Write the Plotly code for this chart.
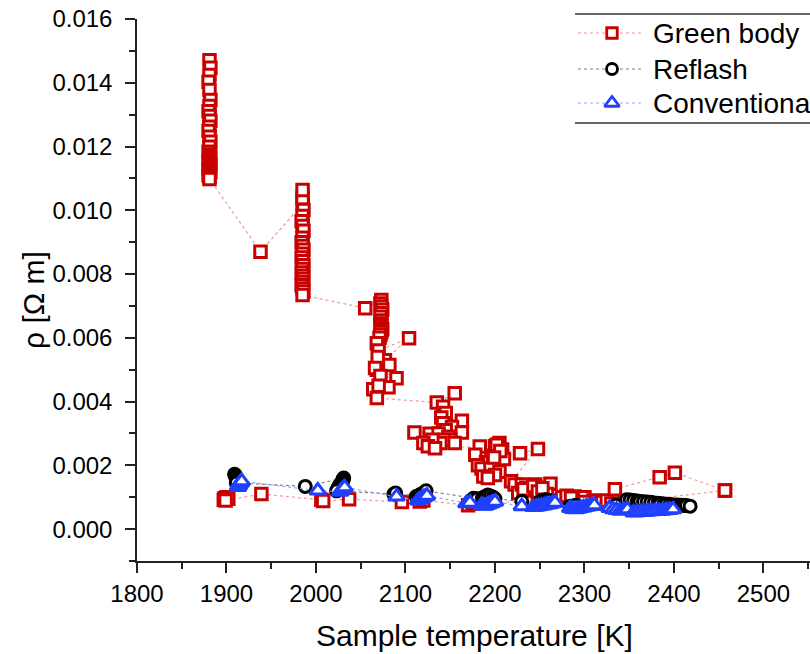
import plotly.graph_objects as go

# ---- Green body: first (high-resistivity) run ----
gb1_T = [1881, 1882, 1881, 1880, 1881, 1882, 1881, 1880, 1881, 1882,
         1881, 1880, 1881, 1882, 1881, 1880, 1881, 1882, 1881, 1880,
         1881, 1882, 1881, 1880, 1881, 1882, 1881, 1880, 1881, 1881,
         1938,
         1985, 1985, 1985, 1986, 1985, 1984, 1985, 1986, 1985, 1984,
         1985, 1986, 1985, 1984, 1985, 1986, 1985, 1984, 1985, 1986,
         1985, 1984, 1985, 1986, 1985,
         2055,
         2073, 2072, 2073, 2074, 2073, 2072, 2073, 2072, 2073, 2074,
         2073, 2072, 2071,
         2068, 2070, 2104, 2077, 2069, 2082, 2068, 2066, 2090, 2072,
         2081, 2064, 2070, 2068,
         2135, 2155, 2142, 2145, 2140, 2163, 2142, 2152, 2145, 2110,
         2127, 2163, 2137, 2148, 2150, 2143, 2139, 2130, 2120, 2155,
         2125, 2133,
         2183, 2178, 2205, 2200, 2208, 2203, 2196, 2210, 2190, 2181,
         2198, 2185, 2195, 2205, 2200, 2187, 2192, 2202, 2206, 2199,
         2228, 2248,
         2218, 2222, 2226, 2230, 2235, 2239, 2240, 2245, 2250, 2255,
         2262, 2258, 2232, 2243, 2248, 2253,
         2275, 2280, 2289, 2295, 2300, 2285,
         2310, 2315, 2320, 2325, 2334, 2384, 2401, 2457]
gb1_rho = [0.01471, 0.01447, 0.01424, 0.01403, 0.01377, 0.01346, 0.01327, 0.01311, 0.01296, 0.01281,
           0.01262, 0.01249, 0.01231, 0.01215, 0.01199, 0.01184, 0.01175, 0.01168, 0.01161, 0.01154,
           0.01148, 0.01142, 0.01136, 0.01130, 0.01125, 0.01120, 0.01115, 0.01110, 0.01105, 0.01098,
           0.00870,
           0.01020, 0.01038, 0.01064, 0.01001, 0.00982, 0.00966, 0.00951, 0.00936, 0.00914, 0.00900,
           0.00888, 0.00876, 0.00864, 0.00852, 0.00840, 0.00828, 0.00816, 0.00805, 0.00795, 0.00785,
           0.00775, 0.00765, 0.00755, 0.00745, 0.00734,
           0.00693,
           0.00719, 0.00708, 0.00698, 0.00688, 0.00677, 0.00666, 0.00654, 0.00645, 0.00636, 0.00627,
           0.00618, 0.00610, 0.00600,
           0.00583, 0.00560, 0.00599, 0.00530, 0.00540, 0.00515, 0.00500, 0.00505, 0.00473, 0.00480,
           0.00445, 0.00439, 0.00450, 0.00411,
           0.00397, 0.00426, 0.00384, 0.00364, 0.00350, 0.00340, 0.00332, 0.00320, 0.00310, 0.00303,
           0.00299, 0.00303, 0.00300, 0.00290, 0.00280, 0.00280, 0.00270, 0.00280, 0.00270, 0.00270,
           0.00260, 0.00254,
           0.00259, 0.00233, 0.00270, 0.00260, 0.00250, 0.00240, 0.00230, 0.00220, 0.00210, 0.00200,
           0.00217, 0.00190, 0.00190, 0.00180, 0.00170, 0.00165, 0.00160, 0.00265, 0.00245, 0.00225,
           0.00238, 0.00251,
           0.00150, 0.00140, 0.00113, 0.00140, 0.00130, 0.00123, 0.00110, 0.00140, 0.00130, 0.00120,
           0.00142, 0.00110, 0.00125, 0.00135, 0.00118, 0.00128,
           0.00100, 0.00105, 0.00102, 0.00095, 0.00100, 0.00098,
           0.00090, 0.00080, 0.00085, 0.00090, 0.00125, 0.00163, 0.00177, 0.00121]

# ---- Green body: second (low-resistivity) run ----
gb2_T = [1898, 1897, 1900, 1902, 1899, 1939, 2006, 2008, 2037, 2096, 2116,
         2120, 2170, 2175, 2190, 2235, 2260, 2300, 2330, 2345, 2457]
gb2_rho = [0.00097, 0.00092, 0.00100, 0.00095, 0.00090, 0.00110, 0.00092, 0.00088, 0.00094, 0.00085, 0.00087,
           0.00090, 0.00075, 0.00080, 0.00085, 0.00085, 0.00090, 0.00085, 0.00080, 0.00085, 0.00121]

# ---- Reflash ----
rf_T = [1909, 1910, 1910, 1911, 1911, 1912, 1912, 1913, 1912, 1911,
        1988,
        2031, 2030, 2030, 2029, 2028, 2027, 2026, 2025, 2024, 2023,
        2087, 2089,
        2112, 2114, 2116, 2118, 2120, 2122, 2123,
        2176, 2180, 2186, 2188, 2190, 2192, 2195, 2198, 2200,
        2230, 2250, 2252, 2254, 2256, 2258, 2260,
        2284, 2290, 2335,
        2347, 2351, 2355, 2359, 2362, 2366, 2370, 2374, 2378, 2382,
        2385, 2389, 2392, 2396, 2400, 2404, 2408, 2411, 2414, 2418]
rf_rho = [0.00172, 0.00169, 0.00166, 0.00163, 0.00160, 0.00157, 0.00154, 0.00151, 0.00148, 0.00145,
          0.00134,
          0.00160, 0.00156, 0.00152, 0.00148, 0.00144, 0.00140, 0.00135, 0.00130, 0.00125, 0.00120,
          0.00110, 0.00113,
          0.00102, 0.00104, 0.00107, 0.00110, 0.00113, 0.00117, 0.00120,
          0.00097, 0.00095, 0.00098, 0.00100, 0.00103, 0.00107, 0.00104, 0.00100, 0.00095,
          0.00087, 0.00086, 0.00088, 0.00090, 0.00092, 0.00091, 0.00089,
          0.00072, 0.00075, 0.00075,
          0.00092, 0.00091, 0.00090, 0.00088, 0.00087, 0.00086, 0.00085, 0.00084, 0.00082, 0.00081,
          0.00080, 0.00079, 0.00078, 0.00077, 0.00076, 0.00076, 0.00075, 0.00074, 0.00074, 0.00072]

# ---- Conventional ----
cv_T = [1913, 1913, 1914, 1914, 1915, 1916, 1916, 1917,
        2002,
        2027, 2028, 2029, 2030, 2031, 2032,
        2090,
        2114, 2116, 2118, 2120, 2122, 2124,
        2168, 2172,
        2185, 2187, 2189, 2191, 2193, 2195, 2197, 2200,
        2230, 2243, 2246, 2249, 2252, 2255, 2258, 2261, 2264, 2267,
        2284, 2287, 2290, 2293, 2296, 2299, 2302, 2305, 2308, 2311,
        2328, 2332, 2336, 2340, 2344, 2348,
        2355, 2359, 2363, 2367, 2371, 2375, 2379, 2383, 2387, 2391, 2395, 2399]
cv_rho = [0.00132, 0.00135, 0.00138, 0.00141, 0.00144, 0.00146, 0.00148, 0.00150,
          0.00121,
          0.00117, 0.00120, 0.00123, 0.00126, 0.00128, 0.00131,
          0.00102,
          0.00090, 0.00093, 0.00096, 0.00099, 0.00102, 0.00105,
          0.00081, 0.00083,
          0.00076, 0.00074, 0.00073, 0.00076, 0.00078, 0.00080, 0.00083, 0.00086,
          0.00072, 0.00069, 0.00070, 0.00072, 0.00073, 0.00075, 0.00077, 0.00078, 0.00080, 0.00083,
          0.00066, 0.00063, 0.00062, 0.00064, 0.00066, 0.00068, 0.00070, 0.00072, 0.00073, 0.00075,
          0.00066, 0.00062, 0.00060, 0.00058, 0.00060, 0.00062,
          0.00052, 0.00053, 0.00054, 0.00054, 0.00055, 0.00056, 0.00057, 0.00057, 0.00058, 0.00059, 0.00060, 0.00062]

series_names = ["Green body", "Reflash", "Conventional"]

RED = "#c80000"
BLACK = "#000000"
BLUE = "#1f40ff"
FONT = "Liberation Sans, Arial, sans-serif"

# figure geometry (pixels)
W, H = 810, 654
L, R, T, B = 137, 0, 19, 93


def px_x(p):
    return (p - L) / (W - L - R)


def px_y(p):
    return (H - B - p) / (H - T - B)


fig = go.Figure()

gb_T = gb1_T + [None] + gb2_T
gb_rho = gb1_rho + [None] + gb2_rho

styles = [
    (gb_T, gb_rho, RED, "#f09a9a", "square", 11.5),
    (rf_T, rf_rho, BLACK, "#808080", "circle", 12),
    (cv_T, cv_rho, BLUE, "#8fa8ff", "triangle-up", 14),
]

for (xs, ys, col, lcol, sym, sz), name in zip(styles, series_names):
    fig.add_trace(go.Scatter(
        x=xs, y=ys, name=name, mode="lines+markers", connectgaps=False,
        line=dict(color=lcol, width=1.2, dash="dot"),
        marker=dict(symbol=sym, size=sz, color="white",
                    line=dict(color=col, width=3)),
        showlegend=False, cliponaxis=True,
    ))

# legend drawn on a pixel-space overlay axis
legend_rows = [33, 69, 103]
for (xs, ys, col, lcol, sym, sz), name, yrow in zip(styles, series_names, legend_rows):
    fig.add_trace(go.Scatter(
        x=[578, 641], y=[yrow, yrow], xaxis="x2", yaxis="y2", mode="lines",
        line=dict(color=lcol, width=1.2, dash="dot"), showlegend=False,
        hoverinfo="skip",
    ))
    fig.add_trace(go.Scatter(
        x=[612], y=[yrow], xaxis="x2", yaxis="y2", mode="markers",
        marker=dict(symbol=sym, size=sz - 1, color="white",
                    line=dict(color=col, width=2.8)),
        showlegend=False, hoverinfo="skip",
    ))
    fig.add_annotation(x=651, y=yrow, xref="x2", yref="y2", text=name,
                       showarrow=False, xanchor="left", yanchor="middle",
                       font=dict(family=FONT, size=28, color="black"))

for yl in (14, 123):
    fig.add_shape(type="line", xref="paper", yref="paper",
                  x0=px_x(575), x1=px_x(812), y0=px_y(yl), y1=px_y(yl),
                  line=dict(color="#333333", width=1.5))

# axis titles
fig.add_annotation(x=px_x(474), y=px_y(635), xref="paper", yref="paper",
                   text="Sample temperature [K]", showarrow=False,
                   xanchor="center", yanchor="middle",
                   font=dict(family=FONT, size=30, color="black"))
fig.add_annotation(x=px_x(33), y=px_y(300), xref="paper", yref="paper",
                   text="ρ [Ω m]", showarrow=False, textangle=-90,
                   xanchor="center", yanchor="middle",
                   font=dict(family=FONT, size=30, color="black"))

axis_common = dict(showgrid=False, zeroline=False, showline=True,
                   linecolor="#222222", linewidth=1.5, ticks="outside",
                   tickcolor="#222222", tickwidth=1.5, ticklen=10,
                   tickfont=dict(family=FONT, size=24, color="black"))

fig.update_layout(
    width=W, height=H,
    margin=dict(l=L, r=R, t=T, b=B, pad=0),
    paper_bgcolor="white", plot_bgcolor="white",
    showlegend=False,
    xaxis=dict(range=[1800, 2552], dtick=100, tick0=1800,
               minor=dict(dtick=50, ticklen=6, tickwidth=1.5, tickcolor="#222222", ticks="outside"),
               **axis_common),
    yaxis=dict(range=[-0.001, 0.016], dtick=0.002, tick0=0, tickformat=".3f",
               ticklabelstandoff=8,
               minor=dict(dtick=0.001, ticklen=6, tickwidth=1.5, tickcolor="#222222", ticks="outside"),
               **axis_common),
    xaxis2=dict(range=[L, W], overlaying="x", visible=False, fixedrange=True),
    yaxis2=dict(range=[H - B, T], overlaying="y", visible=False, fixedrange=True),
)

fig.write_html("out.html")
